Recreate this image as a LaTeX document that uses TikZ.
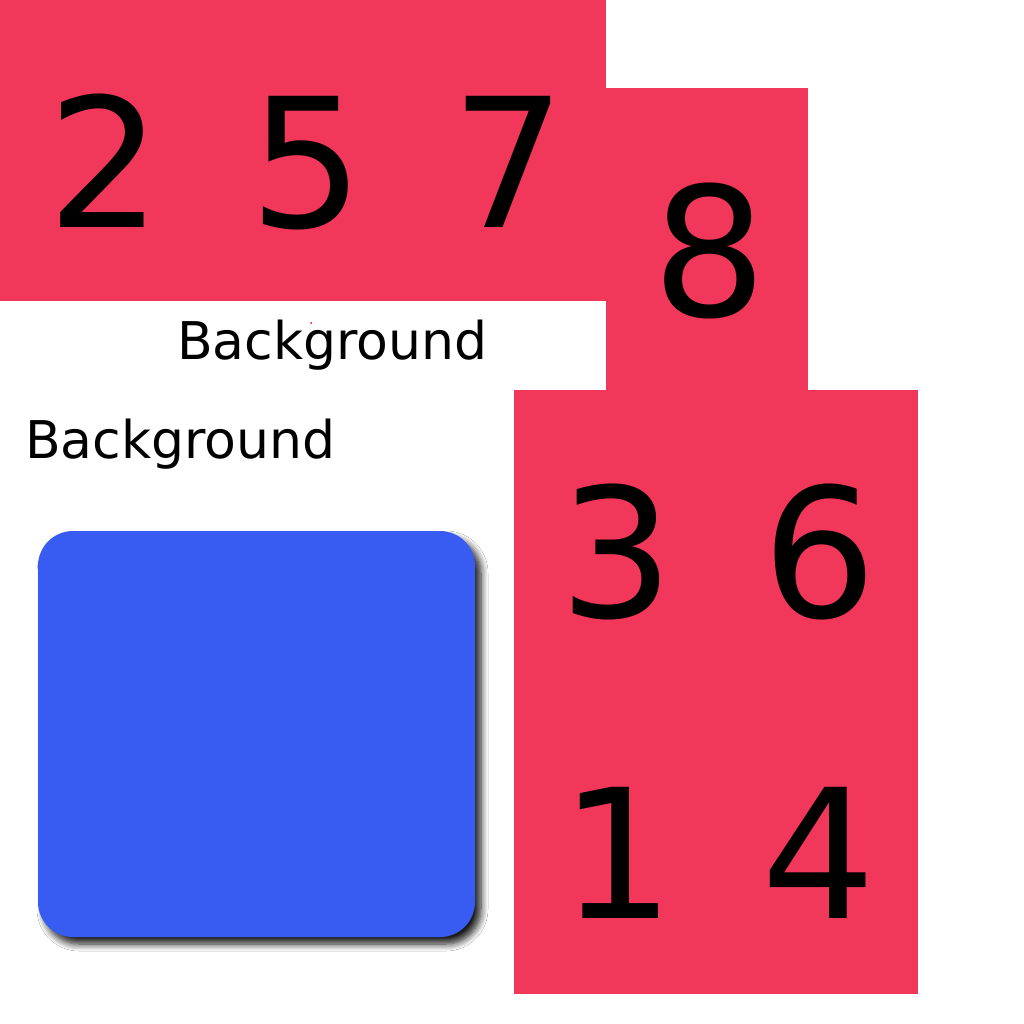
\documentclass[tikz,border=0pt]{standalone}
\usepackage{fontspec}
\setmainfont{DejaVu Sans}
\usetikzlibrary{shadows.blur}
\definecolor{cellred}{HTML}{F2385A}
\definecolor{cardblue}{HTML}{385CF2}
\tikzset{
  cellbox/.style={fill=cellred, draw=none},
  digit/.style={inner sep=0pt, anchor=base, font=\fontsize{180}{200}\selectfont, text=black},
  bglabel/.style={inner sep=0pt, anchor=base west, font=\fontsize{52}{60}\selectfont, text=black},
  card/.style={fill=cardblue, draw=none, rounded corners=35pt,
    blur shadow={shadow xshift=6pt, shadow yshift=-7pt, shadow blur steps=8, shadow blur radius=7pt, shadow opacity=90}}
}
\begin{document}
\begin{tikzpicture}[x=1pt,y=-1pt]
\useasboundingbox (0,0) rectangle (1024,1024);
\fill[white] (0,0) rectangle (1024,1024);
% red cells
\fill[cellred] (0,0) rectangle (606,301);
\fill[cellred] (606,88) rectangle (808,390);
\fill[cellred] (514,390) rectangle (918,994);
% digits
\node[digit] (d2) at (105,228) {2};
\node[digit] (d5) at (307,228) {5};
\node[digit] (d7) at (509,228) {7};
\node[digit] (d8) at (710,316) {8};
\node[digit] (d3) at (617,617) {3};
\node[digit] (d6) at (820,617) {6};
\node[digit] (d1) at (618,918) {1};
\node[digit] (d4) at (819,918) {4};
% labels
\node[bglabel] (bg1) at (177,359) {Background};
\node[bglabel] (bg2) at (25,458) {Background};
\fill[red] (311,323) circle (1pt);
% card
\path[card] (38,531) rectangle (475,937);
\end{tikzpicture}
\end{document}
